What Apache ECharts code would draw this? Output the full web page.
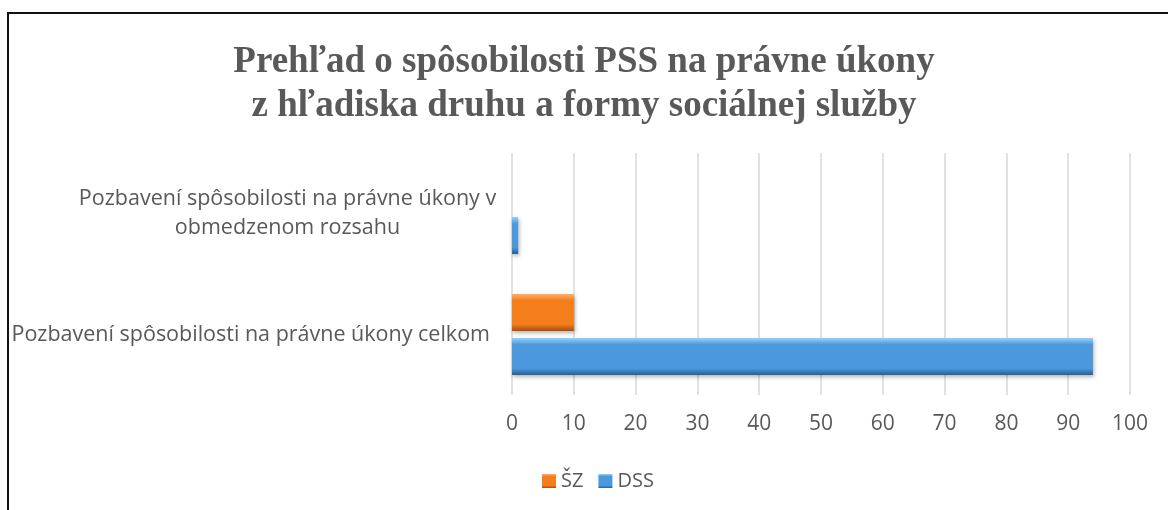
<!DOCTYPE html>
<html>
<head>
<meta charset="utf-8">
<script src="https://cdn.jsdelivr.net/npm/echarts@6/dist/echarts.min.js"></script>
<style>
  html, body { margin: 0; padding: 0; background: #fff; }
  #wrap { position: relative; width: 1168px; height: 510px; }
  #main { width: 1168px; height: 510px; }
  #frame {
    position: absolute; left: 7px; top: 12px; right: 0; bottom: 0;
    border-top: 2px solid #111; border-left: 2px solid #111;
    pointer-events: none;
  }
</style>
</head>
<body>
<div id="wrap">
  <div id="main"></div>
  <div id="frame"></div>
</div>
<script>
// kategórie (prvá je dole)
const categories = [
  'Pozbavení spôsobilosti na právne úkony celkom',
  'Pozbavení spôsobilosti na právne úkony v\nobmedzenom rozsahu'
];
const seriesNames = ['ŠZ', 'DSS'];
const szValues = [10, 0];
const dssValues = [94, 1];
const xTicks = { min: 0, max: 100, interval: 10 };

const txt = '#595959';

const bevel = (top, mid, bottom) => new echarts.graphic.LinearGradient(0, 0, 0, 1, [
  { offset: 0, color: top },
  { offset: 0.18, color: mid },
  { offset: 0.82, color: mid },
  { offset: 1, color: bottom }
]);

const myChart = echarts.init(document.getElementById('main'));

const option = {
  animation: false,
  title: {
    text: 'Prehľad o spôsobilosti PSS na právne úkony\nz hľadiska druhu a formy sociálnej služby',
    left: 'center',
    top: 35,
    textStyle: {
      fontFamily: 'Liberation Serif',
      fontWeight: 'bold',
      fontSize: 37,
      lineHeight: 44,
      color: txt
    }
  },
  legend: {
    data: seriesNames,
    left: 542,
    top: 471,
    padding: 0,
    itemWidth: 14,
    itemHeight: 14,
    itemGap: 15,
    icon: 'rect',
    textStyle: { fontFamily: 'Open Sans', fontSize: 20, color: txt }
  },
  grid: { left: 512, right: 38, top: 153, bottom: 115 },
  xAxis: {
    type: 'value',
    min: xTicks.min,
    max: xTicks.max,
    interval: xTicks.interval,
    axisLine: { show: false },
    axisTick: { show: false },
    axisLabel: { fontFamily: 'Open Sans', fontSize: 21, color: txt, margin: 19 },
    splitLine: { lineStyle: { color: '#d9d9d9', width: 1.5 } }
  },
  yAxis: {
    type: 'category',
    data: categories,
    axisLine: { show: false },
    axisTick: { show: false },
    axisLabel: {
      margin: 22,
      fontFamily: 'Open Sans',
      fontSize: 21.5,
      color: txt,
      lineHeight: 29,
      formatter: (v) => {
        if (v.indexOf('\n') < 0) return v;
        return v.split('\n').map(s => '{c|' + s + '}').join('\n');
      },
      rich: {
        c: { width: 405, align: 'center', fontFamily: 'Open Sans', fontSize: 21.5, color: txt, lineHeight: 29 }
      }
    }
  },
  series: [
    {
      name: 'ŠZ',
      type: 'bar',
      data: szValues,
      barGap: '19%',
      barCategoryGap: '33%',
      itemStyle: {
        color: bevel('#ffb066', '#f47d1c', '#a94c0c'),
        shadowColor: 'rgba(0,0,0,0.3)',
        shadowBlur: 4,
        shadowOffsetX: 1,
        shadowOffsetY: 2
      }
    },
    {
      name: 'DSS',
      type: 'bar',
      data: dssValues,
      itemStyle: {
        color: bevel('#92d3fa', '#4b98dc', '#2a5e92'),
        shadowColor: 'rgba(0,0,0,0.3)',
        shadowBlur: 4,
        shadowOffsetX: 1,
        shadowOffsetY: 2
      }
    }
  ]
};

myChart.setOption(option);
</script>
</body>
</html>
